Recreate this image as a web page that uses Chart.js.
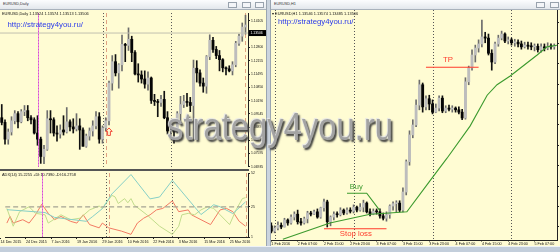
<!DOCTYPE html>
<html>
<head>
<meta charset="utf-8">
<script src="https://cdn.jsdelivr.net/npm/chart.js@4/dist/chart.umd.min.js"></script>
<style>
  body { margin: 0; width: 560px; height: 252px; overflow: hidden; position: relative; background: #cbd4de; font-family: "Liberation Sans", Arial, sans-serif; }
  div, canvas { position: absolute; }
  .bar { top: 0; height: 9px; background: linear-gradient(#fcfdfe, #e3e7ec); border-bottom: 1px solid #a9b2bc; }
  .cap { left: 3px; top: 0; font-size: 3.8px; line-height: 9px; color: #333; white-space: nowrap; }
  .btn { top: 1.5px; width: 9px; height: 6px; border: 1px solid #98a2ad; background: #f3f5f8; box-sizing: border-box; }
  .pane { background: #fffcd3; }
  .info { font-size: 3.9px; line-height: 5px; color: #111; white-space: nowrap; }
  .link { font-size: 7.8px; line-height: 9px; color: #2c3bea; white-space: nowrap; }
  .wm { left: 167px; top: 108px; font-size: 38px; line-height: 38px; color: #a3a3a3; white-space: nowrap;
        transform: scaleX(0.863); transform-origin: 0 0; text-shadow: -1px -1px 1px #e6e6e6, 2px 2px 2px #3a3a3a; }
</style>
</head>
<body>
<div class="bar" style="left:0;width:266px"><div class="cap">EURUSD,Daily</div>
  <div class="btn" style="left:228px"></div><div class="btn" style="left:242px"></div><div class="btn" style="left:255px"></div></div>
<div class="bar" style="left:271px;width:289px"><div class="cap">EURUSD,H1</div>
  <div class="btn" style="left:265px"></div><div class="btn" style="left:279px"></div></div>
<div class="pane" style="left:0;top:10px;width:266px;height:236px"></div>
<div class="pane" style="left:271px;top:10px;width:289px;height:236px"></div>
<div style="left:266px;top:0;width:1px;height:246px;background:#9aa5b1"></div>
<div style="left:270px;top:0;width:1px;height:246px;background:#9aa5b1"></div>
<div style="left:0;top:246px;width:560px;height:6px;background:#c3cedb;border-top:1px solid #eef2f6"></div>

<canvas id="day-chart" width="266" height="160" style="left:0;top:10px"></canvas>
<canvas id="adx-chart" width="266" height="76" style="left:0;top:170px"></canvas>
<canvas id="hour-chart" width="289" height="236" style="left:271px;top:10px"></canvas>
<div style="left:0;top:168.5px;width:249px;height:2px;background:#555"></div>

<div class="info" style="left:2px;top:10.5px">EURUSD,Daily 1.13524 1.13574 1.13513 1.13506</div>
<div class="link" style="left:7.5px;top:20px">http://strategy4you.ru/</div>
<div class="info" style="left:2px;top:171.5px">ADX(14) 15.2255 +DI:10.7390 -DI:16.2758</div>
<div class="info" style="left:272px;top:10.5px">▾ EURUSD,H1 1.13546 1.13574 1.13485 1.13506</div>
<div class="link" style="left:278px;top:17px">http://strategy4you.ru/</div>
<div class="wm">strategy4you.ru</div>

<script>
Chart.defaults.font.family = "'Liberation Sans', Arial, sans-serif";
Chart.defaults.color = "#111";

// EURUSD Daily, 16 Dec 2015 .. 1 Apr 2016 (bar index 0..75)
const dayOpen = [1.0935,1.0912,1.0830,1.0865,1.0920,1.0955,1.0915,1.0965,1.0970,1.0935,
  1.0925,1.0860,1.0830,1.0745,1.0780,1.0930,1.0925,1.0860,1.0855,1.0875,
  1.0865,1.0915,1.0890,1.0880,1.0895,1.0875,1.0795,1.0845,1.0870,1.0895,
  1.0940,1.0830,1.0885,1.0920,1.1105,1.1210,1.1155,1.1195,1.1295,1.1290,
  1.1320,1.1255,1.1150,1.1145,1.1125,1.1100,1.1130,1.1020,1.1015,1.1010,
  1.1025,1.0935,1.0870,1.0875,1.0865,1.0955,1.1000,1.1015,1.1010,1.0995,
  1.1178,1.1155,1.1105,1.1090,1.1235,1.1315,1.1270,1.1240,1.1220,1.1180,
  1.1175,1.1165,1.1195,1.1300,1.1335,1.1380];
const dayHigh = [1.1000,1.0925,1.0880,1.0940,1.0970,1.0965,1.0975,1.0995,1.0995,1.0945,
  1.0935,1.0945,1.0840,1.0800,1.0970,1.0970,1.0935,1.0895,1.0900,1.0945,
  1.0985,1.0925,1.0930,1.0955,1.0930,1.0885,1.0855,1.0885,1.0920,1.0965,
  1.0960,1.0895,1.0935,1.1115,1.1240,1.1245,1.1200,1.1340,1.1300,1.1376,
  1.1335,1.1265,1.1200,1.1165,1.1165,1.1160,1.1135,1.1050,1.1025,1.1045,
  1.1065,1.0965,1.0905,1.0880,1.0965,1.1040,1.1045,1.1055,1.1035,1.1218,
  1.1215,1.1170,1.1130,1.1240,1.1342,1.1330,1.1285,1.1265,1.1225,1.1185,
  1.1190,1.1210,1.1310,1.1345,1.1400,1.1438];
const dayLow = [1.0900,1.0805,1.0805,1.0850,1.0905,1.0885,1.0910,1.0945,1.0920,1.0905,
  1.0855,1.0800,1.0711,1.0710,1.0775,1.0860,1.0845,1.0820,1.0835,1.0850,
  1.0860,1.0870,1.0860,1.0870,1.0780,1.0795,1.0790,1.0825,1.0845,1.0880,
  1.0810,1.0810,1.0870,1.0900,1.1070,1.1140,1.1080,1.1165,1.1210,1.1265,
  1.1210,1.1145,1.1110,1.1105,1.1080,1.1070,1.1005,1.0995,1.0940,1.0990,
  1.0930,1.0855,1.0845,1.0810,1.0860,1.0905,1.0985,1.0990,1.0965,1.0822,
  1.1110,1.1090,1.1060,1.1055,1.1220,1.1255,1.1225,1.1165,1.1160,1.1145,
  1.1160,1.1145,1.1185,1.1290,1.1310,1.1345];
const dayClose = [1.0912,1.0830,1.0865,1.0920,1.0955,1.0915,1.0965,1.0970,1.0935,1.0925,
  1.0860,1.0830,1.0745,1.0780,1.0930,1.0925,1.0860,1.0855,1.0875,1.0865,
  1.0915,1.0890,1.0880,1.0895,1.0875,1.0795,1.0845,1.0870,1.0895,1.0940,
  1.0830,1.0885,1.0920,1.1105,1.1210,1.1155,1.1195,1.1295,1.1290,1.1320,
  1.1255,1.1150,1.1145,1.1125,1.1100,1.1130,1.1020,1.1015,1.1010,1.1025,
  1.0935,1.0870,1.0875,1.0865,1.0955,1.1000,1.1015,1.1010,1.0995,1.1178,
  1.1155,1.1105,1.1090,1.1235,1.1315,1.1270,1.1240,1.1220,1.1180,1.1175,
  1.1165,1.1195,1.1300,1.1335,1.1380,1.1390];
const dayTickIdx = [-2, 6, 14, 22, 30, 38, 46, 54, 62, 70];
const dayTickLabels = ["14 Dec 2015", "24 Dec 2015", "7 Jan 2016", "19 Jan 2016", "29 Jan 2016",
  "10 Feb 2016", "22 Feb 2016", "3 Mar 2016", "15 Mar 2016", "25 Mar 2016"];
const dayPriceTicks = [1.14105, 1.13450, 1.12800, 1.12155, 1.11495, 1.10850, 1.10190,
  1.09545, 1.08895, 1.08235, 1.07595, 1.06935];
const dayLastPrice = 1.13506;
const dayMonthStarts = [11, 31, 52];
const dayMarkedBar = 11;
const dayRangeBars = [32, 75];
const dayArrowBar = 33;
const dayArrowPrice = 1.0885;

// ADX(14) lines, read at their turning points
const adxBars = [0,12,15,25,27,30,33,39,45,48,52,61,65,67,71,75];
const adxValues = [22.8,20.5,16.6,13.5,17.4,23.6,35.3,50.8,31.4,32.9,46.2,18.9,26.7,25.1,19.7,29.0];
const plusDiBars = [0,2,4,7,9,12,13,17,20,23,26,29,30,33,34,35,37,38,39,40,44,48,52,54,55,57,59,61,63,65,67,70,72,74,75];
const plusDiValues = [23.8,9.6,21.2,25.1,19.9,18.7,12.1,18.7,14.8,16.0,22.6,25.7,23.8,34.2,33.0,27.7,31.6,28.3,31.6,26.5,
  18.7,9.6,3.1,9.6,18.7,19.9,18.7,22.6,25.1,23.8,18.7,10.9,22.6,31.6,32.4];
const minusDiBars = [0,1,2,5,7,9,11,13,15,17,20,22,24,26,29,30,32,36,39,41,43,45,47,49,52,54,57,58,61,64,67,69,71,73,75];
const minusDiValues = [12.1,17.4,12.1,14.8,12.1,18.7,27.2,19.9,14.8,17.4,13.5,12.1,18.7,10.9,8.3,12.1,8.3,5.7,3.1,12.1,
  16.0,18.7,22.6,23.8,29.8,21.2,22.6,18.7,14.8,10.9,22.6,23.8,21.2,13.5,9.6];
const adxTicks = [1, 25, 52];
const adxLevel = 25;

// EURUSD H1, 1 Feb 23:00 .. 5 Feb 13:00 (bar index 0..86)
const hourOpen = [1.0887,1.0878,1.0883,1.0888,1.0885,1.0897,1.0892,1.0902,1.0907,1.0894,
  1.0892,1.0899,1.0909,1.0907,1.0911,1.0902,1.0918,1.0928,1.0894,1.0902,
  1.0907,1.0906,1.0914,1.0909,1.0914,1.0912,1.0919,1.0914,1.0919,1.0926,
  1.0911,1.0907,1.0912,1.0911,1.0904,1.0900,1.0906,1.0921,1.0925,1.0926,
  1.0914,1.0945,1.0997,1.1043,1.1060,1.1094,1.1129,1.1091,1.1105,1.1096,
  1.1082,1.1089,1.1106,1.1084,1.1089,1.1087,1.1089,1.1086,1.1082,1.1072,
  1.1134,1.1158,1.1180,1.1192,1.1199,1.1211,1.1209,1.1183,1.1168,1.1199,
  1.1209,1.1216,1.1204,1.1206,1.1201,1.1202,1.1199,1.1194,1.1197,1.1195,
  1.1194,1.1195,1.1189,1.1194,1.1192,1.1195,1.1194];
const hourHigh = [1.0892,1.0887,1.0894,1.0892,1.0900,1.0899,1.0906,1.0911,1.0914,1.0900,
  1.0902,1.0912,1.0912,1.0914,1.0916,1.0919,1.0933,1.0931,1.0904,1.0911,
  1.0911,1.0918,1.0916,1.0918,1.0918,1.0923,1.0921,1.0925,1.0931,1.0928,
  1.0916,1.0916,1.0916,1.0916,1.0909,1.0911,1.0923,1.0928,1.0930,1.0930,
  1.0952,1.1000,1.1050,1.1069,1.1103,1.1137,1.1132,1.1110,1.1111,1.1103,
  1.1096,1.1110,1.1110,1.1093,1.1094,1.1093,1.1091,1.1091,1.1087,1.1141,
  1.1161,1.1189,1.1197,1.1206,1.1240,1.1219,1.1216,1.1189,1.1202,1.1214,
  1.1221,1.1218,1.1211,1.1209,1.1207,1.1206,1.1204,1.1202,1.1202,1.1201,
  1.1199,1.1199,1.1199,1.1199,1.1201,1.1199,1.1199];
const hourLow = [1.0875,1.0875,1.0880,1.0882,1.0885,1.0888,1.0890,1.0897,1.0890,1.0888,
  1.0890,1.0892,1.0904,1.0906,1.0900,1.0900,1.0912,1.0885,1.0887,1.0897,
  1.0902,1.0904,1.0906,1.0907,1.0909,1.0909,1.0911,1.0912,1.0911,1.0909,
  1.0904,1.0906,1.0907,1.0900,1.0897,1.0895,1.0900,1.0914,1.0911,1.0911,
  1.0911,1.0940,1.0991,1.1038,1.1057,1.1086,1.1082,1.1086,1.1086,1.1079,
  1.1081,1.1084,1.1081,1.1081,1.1084,1.1082,1.1082,1.1079,1.1069,1.1070,
  1.1129,1.1154,1.1168,1.1185,1.1194,1.1201,1.1180,1.1154,1.1165,1.1195,
  1.1206,1.1201,1.1199,1.1197,1.1195,1.1194,1.1190,1.1192,1.1190,1.1189,
  1.1187,1.1185,1.1185,1.1187,1.1189,1.1190,1.1190];
const hourClose = [1.0878,1.0883,1.0888,1.0885,1.0897,1.0892,1.0902,1.0907,1.0894,1.0892,
  1.0899,1.0909,1.0907,1.0911,1.0902,1.0918,1.0928,1.0894,1.0902,1.0907,
  1.0906,1.0914,1.0909,1.0914,1.0912,1.0919,1.0914,1.0919,1.0926,1.0911,
  1.0907,1.0912,1.0911,1.0904,1.0900,1.0906,1.0921,1.0925,1.0926,1.0914,
  1.0945,1.0997,1.1043,1.1060,1.1094,1.1129,1.1091,1.1105,1.1096,1.1082,
  1.1089,1.1106,1.1084,1.1089,1.1087,1.1089,1.1086,1.1082,1.1072,1.1134,
  1.1158,1.1180,1.1192,1.1199,1.1211,1.1209,1.1183,1.1168,1.1199,1.1209,
  1.1216,1.1204,1.1206,1.1201,1.1202,1.1199,1.1194,1.1197,1.1195,1.1194,
  1.1195,1.1189,1.1194,1.1192,1.1195,1.1194,1.1195];
const hourTickIdx = [0, 8, 16, 24, 32, 40, 48, 56, 64, 72, 80];
const hourTickLabels = ["1 Feb 2016", "2 Feb 07:00", "2 Feb 15:00", "2 Feb 23:00", "3 Feb 07:00", "3 Feb 15:00",
  "3 Feb 23:00", "4 Feb 07:00", "4 Feb 15:00", "4 Feb 23:00", "5 Feb 07:00"];
const hourPriceTicks = [1.0885, 1.0920, 1.0955, 1.0990, 1.1025, 1.1060, 1.1095, 1.1130, 1.1165, 1.1200, 1.1235];
const hourDayStarts = [1, 25, 49, 73];
const trendBars = [3.5, 17.8, 30, 35.9, 41.2, 48.2, 53.4, 60.4, 65.6, 68.6, 72.6, 80.8, 83.8, 87.2];
const trendPrices = [1.0864, 1.0892, 1.0907, 1.0909, 1.0911, 1.0964, 1.1003, 1.1058, 1.1111, 1.1129, 1.1144, 1.1180, 1.1194, 1.1197];
const tpBars = [47, 63];
const tpPrice = 1.1159;
const stopBars = [16, 35];
const stopPrice = 1.0882;
const buyBars = [23, 29, 33];
const buyPrices = [1.0943, 1.0943, 1.0913];

// visible ranges
const dayXMin = -0.54, dayXMax = 75.77;
const dayYMin = 1.06935, dayYMax = 1.14487;
const hourXMin = -0.1, hourXMax = 86.83;
const hourYMin = 1.08627, hourYMax = 1.12572;

function candleSets(open, high, low, close, bodyWidth) {
  const bull = open.map((o, i) => close[i] >= o);
  return [
    {
      type: "bar",
      data: open.map((o, i) => ({ x: i, y: [low[i], high[i]] })),
      backgroundColor: bull.map((b) => (b ? "#6c6c6c" : "#111")),
      barThickness: 1,
      grouped: false,
      order: 3,
    },
    {
      type: "bar",
      data: open.map((o, i) => ({ x: i, y: [o, close[i]] })),
      backgroundColor: bull.map((b) => (b ? "#bdbdbd" : "#050505")),
      barThickness: bodyWidth,
      minBarLength: 1,
      grouped: false,
      order: 2,
    },
  ];
}

function line(xs, ys, color, width, dash) {
  return {
    type: "line",
    data: xs.map((x, i) => ({ x: x, y: ys[i] })),
    borderColor: color,
    borderWidth: width,
    borderDash: dash || [],
    pointRadius: 0,
    tension: 0,
    order: 1,
  };
}

// plugin for vertical markers, texts, arrows and the last price box
function overlay(cfg) {
  function vlines(chart, list) {
    const { ctx, chartArea: a, scales: { x } } = chart;
    list.forEach((l) => {
      const px = Math.round(x.getPixelForValue(l.bar)) + 0.5;
      ctx.save();
      ctx.strokeStyle = l.color;
      ctx.lineWidth = l.width || 1;
      ctx.setLineDash(l.dash || []);
      ctx.beginPath();
      ctx.moveTo(px, a.top);
      ctx.lineTo(px, a.bottom);
      ctx.stroke();
      ctx.restore();
    });
  }
  return {
    id: "overlay",
    beforeDatasetsDraw(chart) {
      vlines(chart, cfg.under || []);
    },
    afterDatasetsDraw(chart) {
      vlines(chart, cfg.over || []);
      const { ctx, chartArea: a, scales: { x, y } } = chart;
      ctx.save();
      (cfg.texts || []).forEach((t) => {
        ctx.fillStyle = t.color;
        ctx.font = t.size + "px 'Liberation Sans', Arial, sans-serif";
        ctx.textAlign = "center";
        ctx.textBaseline = "middle";
        ctx.fillText(t.text, x.getPixelForValue(t.bar), y.getPixelForValue(t.price));
      });
      (cfg.arrows || []).forEach((r) => {
        const px = x.getPixelForValue(r.bar), py = y.getPixelForValue(r.price);
        ctx.strokeStyle = r.color;
        ctx.lineWidth = 0.9;
        ctx.beginPath();
        ctx.moveTo(px, py);
        ctx.lineTo(px + 3.2, py + 3.5);
        ctx.lineTo(px + 1.4, py + 3.5);
        ctx.lineTo(px + 1.4, py + 7.5);
        ctx.lineTo(px - 1.4, py + 7.5);
        ctx.lineTo(px - 1.4, py + 3.5);
        ctx.lineTo(px - 3.2, py + 3.5);
        ctx.closePath();
        ctx.stroke();
      });
      if (cfg.lastPrice) {
        const py = y.getPixelForValue(cfg.lastPrice);
        ctx.fillStyle = "#000";
        ctx.fillRect(a.right + 1, py - 3, 17, 6);
        ctx.fillStyle = "#fff";
        ctx.font = "3.4px 'Liberation Sans', Arial, sans-serif";
        ctx.textAlign = "left";
        ctx.textBaseline = "middle";
        ctx.fillText(cfg.lastPrice.toFixed(5), a.right + 2.5, py);
      }
      ctx.restore();
    },
  };
}

const dayMarkers = {
  under: dayMonthStarts.map((b) => ({ bar: b, color: "#555", dash: [1, 2] }))
    .concat(dayRangeBars.map((b) => ({ bar: b, color: "#e0a282", dash: [4, 3] }))),
  over: [{ bar: dayMarkedBar, color: "#e85ce8", width: 0.8 }],
};

function initDayChart() {
  const ctx = document.getElementById("day-chart").getContext("2d");
  return new Chart(ctx, {
    type: "bar",
    data: {
      datasets: [
        line([dayXMin, dayXMax], [dayLastPrice, dayLastPrice], "#c2c0b0", 1),
        ...candleSets(dayOpen, dayHigh, dayLow, dayClose, 2.2),
      ],
    },
    options: {
      responsive: false,
      animation: false,
      layout: { padding: { top: 0, bottom: 2, left: 0, right: 0 } },
      plugins: { legend: { display: false }, tooltip: { enabled: false } },
      scales: {
        x: { type: "linear", display: false, min: dayXMin, max: dayXMax, offset: false, grid: { offset: false } },
        y: {
          position: "right",
          min: dayYMin,
          max: dayYMax,
          beginAtZero: false,
          afterBuildTicks: (s) => { s.ticks = dayPriceTicks.map((v) => ({ value: v })); },
          afterFit: (s) => { s.width = 18; },
          ticks: { font: { size: 3.4 }, color: "#111", padding: 1, autoSkip: false, callback: (v) => v.toFixed(5) },
          grid: { drawOnChartArea: false, tickLength: 2, color: "#222" },
          border: { color: "#222" },
        },
      },
    },
    plugins: [overlay({
      under: dayMarkers.under,
      over: dayMarkers.over,
      arrows: [{ bar: dayArrowBar, price: dayArrowPrice, color: "#ee3a2a" }],
      lastPrice: dayLastPrice,
    })],
  });
}

function initAdxChart() {
  const ctx = document.getElementById("adx-chart").getContext("2d");
  return new Chart(ctx, {
    type: "line",
    data: {
      datasets: [
        line([dayXMin, dayXMax], [adxLevel, adxLevel], "#a5a394", 1.2, [5, 3]),
        line(adxBars, adxValues, "#86cfc6", 1),
        line(plusDiBars, plusDiValues, "#c2dc8c", 1),
        line(minusDiBars, minusDiValues, "#f27a63", 1),
      ],
    },
    options: {
      responsive: false,
      animation: false,
      layout: { padding: { top: 1.5, bottom: 0, left: 0, right: 0 } },
      plugins: { legend: { display: false }, tooltip: { enabled: false } },
      scales: {
        x: {
          type: "linear",
          min: dayXMin,
          max: dayXMax,
          offset: false,
          afterBuildTicks: (s) => { s.ticks = dayTickIdx.map((v) => ({ value: v })); },
          afterFit: (s) => { s.height = 9; },
          ticks: {
            font: { size: 3.7 }, color: "#111", align: "start", padding: 0.5,
            autoSkip: false, maxRotation: 0,
            callback: (v) => dayTickLabels[dayTickIdx.indexOf(v)],
          },
          grid: { drawOnChartArea: false, tickLength: 2, color: "#222", offset: false },
          border: { color: "#222" },
        },
        y: {
          position: "right",
          min: 1,
          max: 52,
          afterBuildTicks: (s) => { s.ticks = adxTicks.map((v) => ({ value: v })); },
          afterFit: (s) => { s.width = 18; },
          ticks: { font: { size: 3.4 }, color: "#111", padding: 1, autoSkip: false },
          grid: { drawOnChartArea: false, tickLength: 2, color: "#222" },
          border: { color: "#222" },
        },
      },
    },
    plugins: [overlay({ under: dayMarkers.under, over: dayMarkers.over })],
  });
}

function initHourChart() {
  const ctx = document.getElementById("hour-chart").getContext("2d");
  return new Chart(ctx, {
    type: "bar",
    data: {
      datasets: [
        ...candleSets(hourOpen, hourHigh, hourLow, hourClose, 2.2),
        line(trendBars, trendPrices, "#3c9a2e", 1.1),
        line(tpBars, [tpPrice, tpPrice], "#ff3b2b", 1.2),
        line(stopBars, [stopPrice, stopPrice], "#ff3b2b", 1.2),
        line(buyBars, buyPrices, "#3c9a2e", 1.1),
      ],
    },
    options: {
      responsive: false,
      animation: false,
      layout: { padding: 0 },
      plugins: { legend: { display: false }, tooltip: { enabled: false } },
      scales: {
        x: {
          type: "linear",
          min: hourXMin,
          max: hourXMax,
          offset: false,
          afterBuildTicks: (s) => { s.ticks = hourTickIdx.map((v) => ({ value: v })); },
          afterFit: (s) => { s.height = 6; },
          ticks: {
            font: { size: 3.7 }, color: "#111", align: "start", padding: 0,
            autoSkip: false, maxRotation: 0,
            callback: (v) => hourTickLabels[hourTickIdx.indexOf(v)],
          },
          grid: { drawOnChartArea: false, tickLength: 1.5, color: "#222", offset: false },
          border: { color: "#222" },
        },
        y: {
          position: "right",
          min: hourYMin,
          max: hourYMax,
          beginAtZero: false,
          afterBuildTicks: (s) => { s.ticks = hourPriceTicks.map((v) => ({ value: v })); },
          afterFit: (s) => { s.width = 3; },
          ticks: { display: false },
          grid: { drawOnChartArea: false, tickLength: 2, color: "#222" },
          border: { color: "#222" },
        },
      },
    },
    plugins: [overlay({
      under: hourDayStarts.map((b) => ({ bar: b, color: "#555", dash: [1, 2] })),
      texts: [
        { text: "TP", bar: 53.7, price: 1.1171, color: "#ff3b2b", size: 7.8 },
        { text: "Buy", bar: 25.8, price: 1.0954, color: "#3c9a2e", size: 7.5 },
        { text: "Stop loss", bar: 25.7, price: 1.0873, color: "#ff3b2b", size: 7.8 },
      ],
    })],
  });
}

initDayChart();
initAdxChart();
initHourChart();
</script>
</body>
</html>
